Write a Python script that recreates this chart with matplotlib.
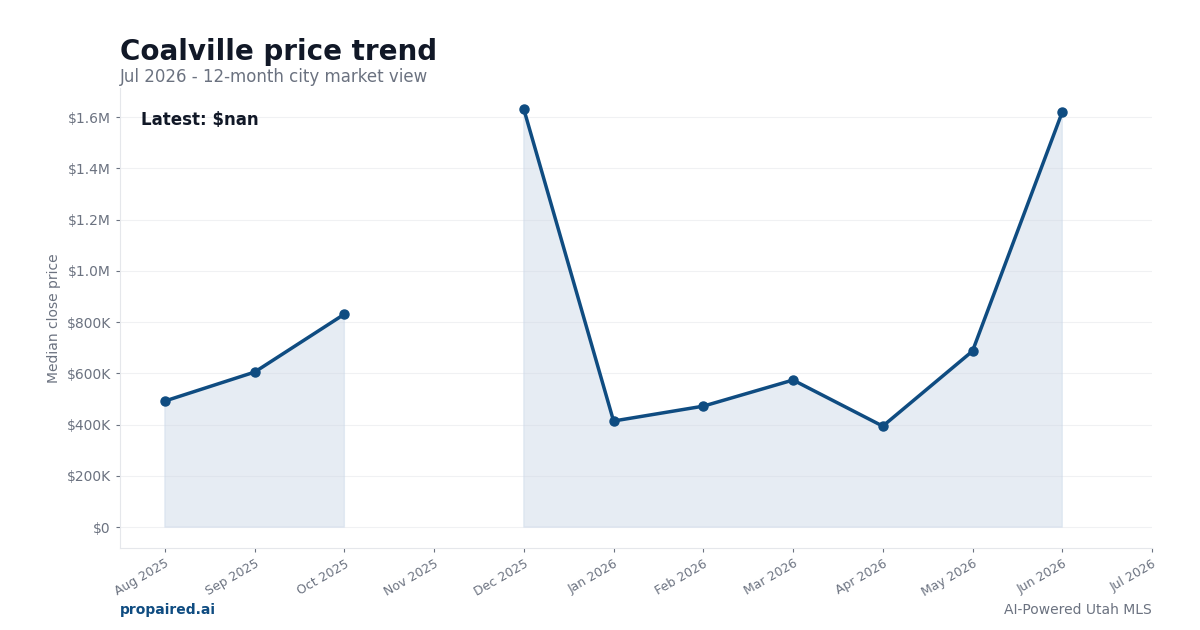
import numpy as np
import pandas as pd
import matplotlib.pyplot as plt
import matplotlib.ticker as mticker

# Monthly median close price (USD); NaN = no sales that month
months = ["Aug 2025", "Sep 2025", "Oct 2025", "Nov 2025", "Dec 2025",
          "Jan 2026", "Feb 2026", "Mar 2026", "Apr 2026", "May 2026",
          "Jun 2026", "Jul 2026"]
prices = [492000, 605000, 831000, np.nan, 1631000, 414000,
          472000, 574000, 394000, 687000, 1620000, np.nan]

TITLE = "Coalville price trend"
SUBTITLE = "Jul 2026 - 12-month city market view"
LINE_COLOR = "#0f4c81"
FILL_COLOR = "#c9d5e5"
TEXT_DARK = "#111827"
TEXT_MUTED = "#6b7280"


def money(v, _pos=None):
    if v >= 1e6:
        return f"${v / 1e6:.1f}M"
    if v > 0:
        return f"${v / 1e3:.0f}K"
    return "$0"


def visualize_data():
    data = pd.DataFrame({"month": months, "price": prices})
    x = np.arange(len(data))

    fig = plt.figure(figsize=(12, 6.3), dpi=100)
    ax = fig.add_axes([0.1, 0.13, 0.86, 0.73])

    y = data["price"].to_numpy()
    ax.fill_between(x, y, 0, where=~np.isnan(y),
                    color=FILL_COLOR, alpha=0.45, linewidth=1,
                    edgecolor="#c9d8ea")
    ax.plot(x, y, color=LINE_COLOR, linewidth=2.5,
            marker="o", markersize=6.5, zorder=3)

    ax.set_xlim(-0.5, len(data) - 1)
    ax.set_ylim(-82000, 1713000)
    ax.set_xticks(x)
    ax.set_xticklabels(data["month"], rotation=30, ha="right",
                       rotation_mode="anchor", fontsize=9, color=TEXT_MUTED)
    ax.yaxis.set_major_locator(mticker.MultipleLocator(200000))
    ax.yaxis.set_major_formatter(mticker.FuncFormatter(money))
    ax.tick_params(axis="y", labelsize=10, labelcolor=TEXT_MUTED,
                   color=TEXT_MUTED, length=3)
    ax.tick_params(axis="x", color=TEXT_MUTED, length=3)
    ax.set_ylabel("Median close price", fontsize=10, color=TEXT_MUTED)

    ax.grid(True, axis="y", color="#f0f1f3", linewidth=0.8)
    ax.set_axisbelow(True)
    for side in ("top", "right"):
        ax.spines[side].set_visible(False)
    for side in ("left", "bottom"):
        ax.spines[side].set_color("#e5e7eb")

    latest = data["price"].iloc[-1]
    ax.text(0.02, 0.95, f"Latest: ${latest:,.0f}" if not np.isnan(latest)
            else "Latest: $nan", transform=ax.transAxes,
            fontsize=12, fontweight="bold", color=TEXT_DARK, va="top")

    fig.text(0.1, 0.917, TITLE, fontsize=20, fontweight="bold",
             color=TEXT_DARK, va="center")
    fig.text(0.1, 0.877, SUBTITLE, fontsize=12, color=TEXT_MUTED,
             va="center")
    fig.text(0.1, 0.032, "propaired.ai", fontsize=10, fontweight="bold",
             color=LINE_COLOR, va="center")
    fig.text(0.96, 0.032, "AI-Powered Utah MLS", fontsize=10,
             color=TEXT_MUTED, va="center", ha="right")

    fig.savefig("out.png", dpi=100, facecolor="white")


if __name__ == "__main__":
    visualize_data()
